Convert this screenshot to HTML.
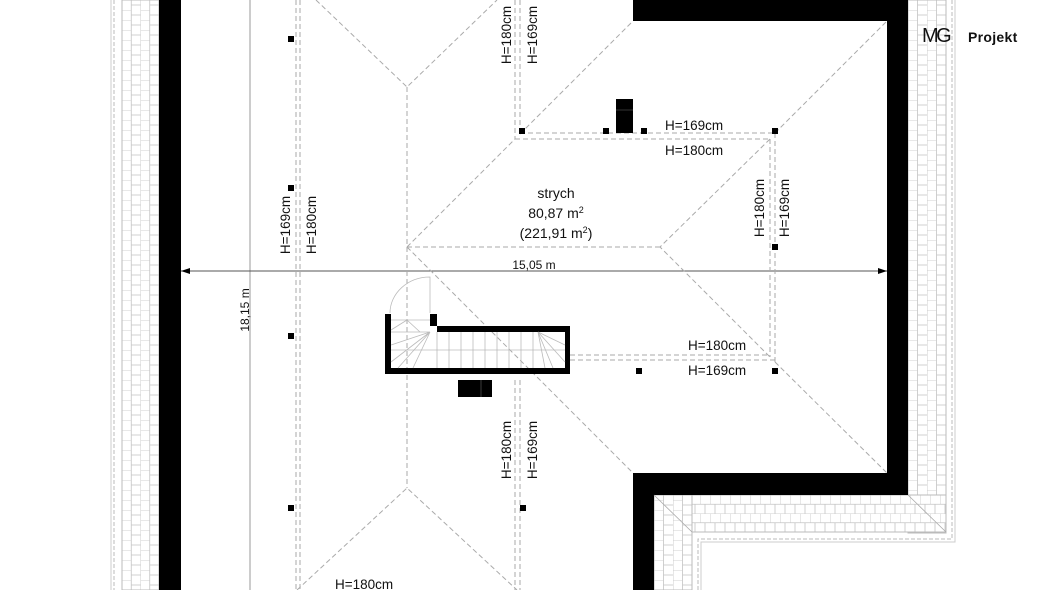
<!DOCTYPE html>
<html><head><meta charset="utf-8"><style>
html,body{margin:0;padding:0;background:#fff;}
svg{display:block;}
text{font-family:"Liberation Sans",sans-serif;fill:#111;}
</style></head><body>
<svg width="1060" height="590" viewBox="0 0 1060 590" xmlns="http://www.w3.org/2000/svg">
<defs>
<pattern id="bv" x="122" y="0" width="18.5" height="10" patternUnits="userSpaceOnUse">
<rect width="18.5" height="10" fill="#fff"/>
<path d="M0 0V10M9.25 0V10M0 0H9.25M9.25 5H18.5" stroke="#c4c4c4" stroke-width="0.8" fill="none"/>
</pattern>
<pattern id="bv2" x="908" y="0" width="19" height="10" patternUnits="userSpaceOnUse">
<rect width="19" height="10" fill="#fff"/>
<path d="M0 0V10M9.5 0V10M0 0H9.5M9.5 5H19" stroke="#c4c4c4" stroke-width="0.8" fill="none"/>
</pattern>
<pattern id="bh" x="0" y="495" width="10" height="18.5" patternUnits="userSpaceOnUse">
<rect width="10" height="18.5" fill="#fff"/>
<path d="M0 0H10M0 9.25H10M0 0V9.25M5 9.25V18.5" stroke="#c4c4c4" stroke-width="0.8" fill="none"/>
</pattern>
<pattern id="bv3" x="654" y="0" width="19" height="10" patternUnits="userSpaceOnUse">
<rect width="19" height="10" fill="#fff"/>
<path d="M0 0V10M9.5 0V10M0 0H9.5M9.5 5H19" stroke="#c4c4c4" stroke-width="0.8" fill="none"/>
</pattern>
</defs>

<line x1="111" y1="0" x2="111" y2="590" stroke="#ccc" stroke-width="1"/>
<line x1="114" y1="0" x2="114" y2="590" stroke="#bbb" stroke-width="1" stroke-dasharray="4 2"/>
<rect x="122" y="0" width="37" height="590" fill="url(#bv)" stroke="#bbb" stroke-width="1"/>
<rect x="159" y="0" width="22" height="590" fill="#000"/>

<rect x="908" y="0" width="38" height="533" fill="url(#bv2)" stroke="#bbb"/>
<rect x="654" y="495" width="292" height="37" fill="url(#bh)" stroke="#bbb"/>
<rect x="654" y="495" width="38" height="95" fill="url(#bv3)" stroke="#bbb"/>
<path d="M955 0V542H701V590" fill="none" stroke="#ccc" stroke-width="1"/>
<path d="M952 0V539H698V590" fill="none" stroke="#bbb" stroke-width="1" stroke-dasharray="4 2"/>
<path d="M633 0H908V495H654V590H633V473H887V21H633Z" fill="#000"/>
<path d="M946 532L908 495M692 532L654 495" stroke="#aaa" stroke-width="0.8" fill="none"/>

<line x1="250" y1="0" x2="250" y2="590" stroke="#aaa" stroke-width="1.2"/>
<line x1="181" y1="271" x2="887" y2="271" stroke="#555" stroke-width="1"/>
<path d="M181 271l9 -3v6z M887 271l-9 -3v6z" fill="#000"/>
<text x="534" y="269" font-size="12" text-anchor="middle">15,05 m</text>
<text transform="translate(249,310) rotate(-90)" font-size="12" text-anchor="middle">18,15 m</text>

<g stroke="#aaa" stroke-width="1" stroke-dasharray="5 3" fill="none">
<line x1="296" y1="0" x2="296" y2="590"/>
<line x1="300" y1="0" x2="300" y2="590"/>
<path d="M316 0L407 87L497 0"/>
<line x1="407" y1="87" x2="407" y2="488"/>
<path d="M297 590L407 488L517 590"/>
<line x1="515" y1="0" x2="515" y2="139"/>
<line x1="520" y1="0" x2="520" y2="134"/>
<line x1="515" y1="380" x2="515" y2="590"/>
<line x1="520" y1="380" x2="520" y2="590"/>
<line x1="520" y1="133" x2="775" y2="133"/>
<line x1="515" y1="139" x2="770" y2="139"/>
<path d="M407 247L515 139"/>
<path d="M520 134L633 21"/>
<line x1="407" y1="247" x2="660" y2="247"/>
<path d="M775 133L887 21"/>
<path d="M770 139L660 247L770 357"/>
<path d="M775 362L887 473"/>
<line x1="770" y1="139" x2="770" y2="357"/>
<line x1="775" y1="133" x2="775" y2="362"/>
<line x1="570" y1="355" x2="770" y2="355"/>
<line x1="570" y1="360" x2="775" y2="360"/>
<path d="M407 247L633 473"/>
</g>

<g fill="#000">
<rect x="288" y="36" width="6" height="6"/>
<rect x="288" y="185" width="6" height="6"/>
<rect x="288" y="333" width="6" height="6"/>
<rect x="288" y="505" width="6" height="6"/>
<rect x="519" y="128" width="6" height="6"/>
<rect x="603" y="128" width="6" height="6"/>
<rect x="641" y="128" width="6" height="6"/>
<rect x="772" y="128" width="6" height="6"/>
<rect x="772" y="244" width="6" height="6"/>
<rect x="636" y="368" width="6" height="6"/>
<rect x="772" y="368" width="6" height="6"/>
<rect x="520" y="505" width="6" height="6"/>
<rect x="616" y="99" width="17" height="34"/>
<rect x="458" y="380" width="34" height="17"/>
</g>
<line x1="616" y1="110" x2="633" y2="110" stroke="#666" stroke-width="0.6"/>
<line x1="481" y1="380" x2="481" y2="397" stroke="#666" stroke-width="0.6"/>

<path d="M385 314H391V368H565V332H437V314H430V326H570V374H385Z" fill="#000"/>
<g stroke="#bbb" stroke-width="0.8" fill="none">
<path d="M391 320H430"/>
<path d="M391 350H565"/>
<path d="M437 332V368M449 332V368M461 332V368M473 332V368M485 332V368M497 332V368M509 332V368M521 332V368M533 332V368"/>
<path d="M430 332L391 345M430 332L391 362M430 332L398 368M430 332L413 368M430 332L391 332M407 320L391 330M407 320L420 332"/>
<path d="M538 332L565 345M538 332L565 362M538 332L553 368M538 332L545 368"/>
<path d="M430 313V277A40 36 0 0 0 390 313"/>
</g>

<g font-size="13.5">
<text transform="translate(290,225) rotate(-90)" text-anchor="middle">H=169cm</text>
<text transform="translate(316,225) rotate(-90)" text-anchor="middle">H=180cm</text>
<text transform="translate(511,35) rotate(-90)" text-anchor="middle">H=180cm</text>
<text transform="translate(537,35) rotate(-90)" text-anchor="middle">H=169cm</text>
<text x="665" y="130">H=169cm</text>
<text x="665" y="155">H=180cm</text>
<text transform="translate(764,208) rotate(-90)" text-anchor="middle">H=180cm</text>
<text transform="translate(789,208) rotate(-90)" text-anchor="middle">H=169cm</text>
<text x="688" y="350">H=180cm</text>
<text x="688" y="375">H=169cm</text>
<text transform="translate(511,450) rotate(-90)" text-anchor="middle">H=180cm</text>
<text transform="translate(537,450) rotate(-90)" text-anchor="middle">H=169cm</text>
<text x="335" y="589">H=180cm</text>
</g>
<g font-size="14" text-anchor="middle">
<text x="556" y="198">strych</text>
<text x="556" y="218">80,87 m<tspan font-size="9" dy="-5">2</tspan></text>
<text x="556" y="238">(221,91 m<tspan font-size="9" dy="-5">2</tspan><tspan dy="5">)</tspan></text>
</g>
<text x="922" y="42" font-size="20" letter-spacing="-2.5">MG</text>
<text x="968" y="42" font-size="14" font-weight="bold" letter-spacing="0.3">Projekt</text>
</svg>
</body></html>
